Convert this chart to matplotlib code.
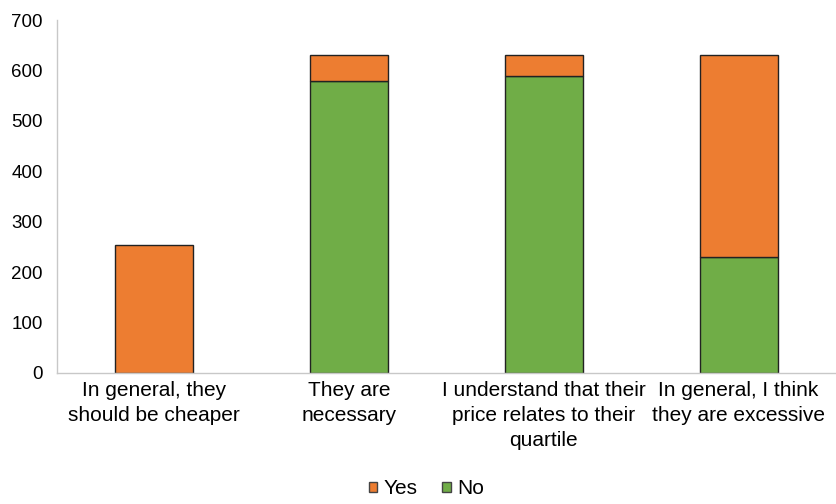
import numpy as np
import matplotlib.pyplot as plt
from matplotlib.patches import Patch

plt.rcParams['font.family'] = ['Liberation Sans', 'DejaVu Sans']

categories = [
    "In general, they\nshould be cheaper",
    "They are\nnecessary",
    "I understand that their\nprice relates to their\nquartile",
    "In general, I think\nthey are excessive",
]
no_vals = [0, 580, 590, 230]
yes_vals = [253, 50, 40, 400]

green = "#70AD47"
orange = "#ED7D31"

fig = plt.figure(figsize=(8.36, 5.04), dpi=100)
ax = fig.add_axes([0.068, 0.26, 0.932, 0.70])

x = np.arange(len(categories))
w = 0.4
ax.bar(x, no_vals, w, color=green, edgecolor="#222222", linewidth=1, label="No")
ax.bar(x, yes_vals, w, bottom=no_vals, color=orange, edgecolor="#222222", linewidth=1, label="Yes")

ax.set_xlim(-0.5, 3.5)
ax.set_ylim(0, 700)
ax.set_yticks(range(0, 701, 100))
ax.set_xticks(x)
ax.set_xticklabels(categories, fontsize=15, linespacing=1.4)
ax.tick_params(axis="y", labelsize=13.5, length=0, pad=10)
ax.tick_params(axis="x", length=0, pad=6)

for side in ["top", "right"]:
    ax.spines[side].set_visible(False)
for side in ["left", "bottom"]:
    ax.spines[side].set_color("#c8c8c8")
    ax.spines[side].set_linewidth(1)

handles = [
    Patch(facecolor=orange, edgecolor="#444444", label="Yes"),
    Patch(facecolor=green, edgecolor="#444444", label="No"),
]
fig.legend(handles=handles, loc="center", bbox_to_anchor=(0.51, 0.03), ncol=2,
           frameon=False, fontsize=15, handlelength=0.4, handleheight=0.4,
           handletextpad=0.3, columnspacing=1.2, borderpad=0.2)

fig.savefig("out.png", dpi=100)
